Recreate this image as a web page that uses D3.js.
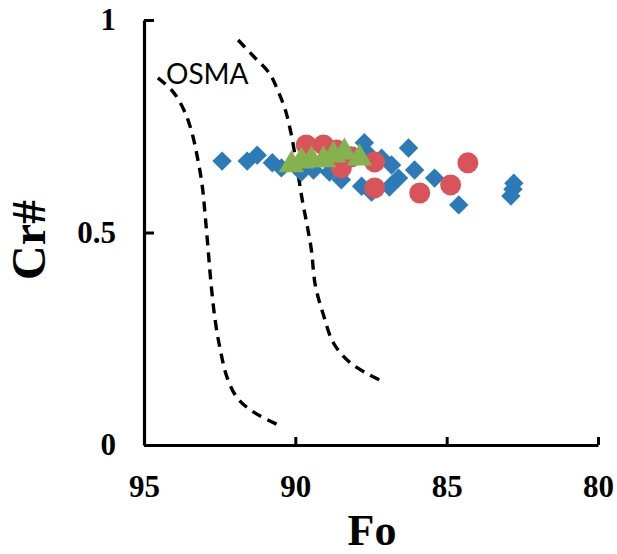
<!DOCTYPE html>
<html>
<head>
<meta charset="utf-8">
<script src="https://cdn.jsdelivr.net/npm/d3@7"></script>
<style>
  body { margin: 0; background: #fff; }
  .tick text { font-family: "Liberation Serif", "Times New Roman", serif; font-weight: bold; }
</style>
</head>
<body>
<svg id="chart" width="617" height="554"></svg>
<script>
// Data (Fo, Cr#)
let blueFo = [92.42, 91.59, 91.26, 90.76, 90.46, 89.80, 89.40, 88.87, 88.48, 88.81, 87.72, 87.55, 87.15, 86.82, 86.59, 87.81, 87.48, 86.89, 86.26, 86.06, 85.40, 84.60, 82.78, 82.81, 82.88]
let blueCr = [0.668, 0.668, 0.682, 0.664, 0.652, 0.642, 0.647, 0.642, 0.624, 0.659, 0.711, 0.682, 0.675, 0.659, 0.628, 0.609, 0.595, 0.607, 0.699, 0.647, 0.628, 0.565, 0.616, 0.602, 0.586]

let redFo = [89.64, 89.07, 88.64, 88.15, 88.48, 87.38, 87.38, 85.89, 84.87, 84.30]
let redCr = [0.706, 0.706, 0.694, 0.678, 0.652, 0.666, 0.605, 0.593, 0.612, 0.664]

let greenFo = [90.13, 89.80, 89.47, 89.07, 88.74, 88.38, 87.88]
let greenCr = [0.659, 0.668, 0.671, 0.671, 0.682, 0.689, 0.675]

// OSMA field boundaries (dashed)
let osmaLeftFo = [94.54, 94.04, 93.68, 93.44, 93.25, 93.08, 92.98, 92.88, 92.78, 92.65, 92.48, 92.25, 91.92, 91.39, 90.56]
let osmaLeftCr = [0.864, 0.831, 0.788, 0.741, 0.682, 0.612, 0.541, 0.459, 0.376, 0.294, 0.224, 0.158, 0.111, 0.078, 0.047]
let osmaRightFo = [91.89, 91.36, 90.86, 90.56, 90.33, 90.13, 89.93, 89.77, 89.60, 89.47, 89.34, 89.07, 88.74, 88.21, 87.55, 87.05]
let osmaRightCr = [0.953, 0.913, 0.875, 0.831, 0.788, 0.729, 0.647, 0.576, 0.513, 0.459, 0.376, 0.306, 0.240, 0.195, 0.165, 0.148]

let xTicks = [95, 90, 85, 80]
let yTicks = [0, 0.5, 1]

const svg = d3.select("#chart")

const x = d3.scaleLinear().domain([95, 80]).range([144, 598])
const y = d3.scaleLinear().domain([0, 1]).range([445, 20])

function zip(a, b) { return a.map((v, i) => [v, b[i]]) }

// dashed curves
const line = d3.line().x(d => x(d[0])).y(d => y(d[1])).curve(d3.curveCatmullRom)
;[zip(osmaLeftFo, osmaLeftCr), zip(osmaRightFo, osmaRightCr)].forEach(c => {
    svg.append("path")
        .attr("d", line(c))
        .attr("fill", "none")
        .attr("stroke", "#000")
        .attr("stroke-width", 3.4)
        .attr("stroke-dasharray", "10,7")
})

svg.append("text")
    .attr("x", 166).attr("y", 84)
    .style("font-family", "Lato, 'Open Sans', sans-serif")
    .style("font-size", "28px")
    .text("OSMA")

// blue diamonds
svg.selectAll(".blue")
    .data(zip(blueFo, blueCr))
    .enter()
    .append("path")
    .attr("class", "blue")
    .attr("d", d3.symbol().type(d3.symbolDiamond2).size(240))
    .attr("transform", d => "translate(" + x(d[0]) + "," + y(d[1]) + ")")
    .style("fill", "#2c7bb8")

// red circles
svg.selectAll(".red")
    .data(zip(redFo, redCr))
    .enter()
    .append("circle")
    .attr("class", "red")
    .attr("cx", d => x(d[0]))
    .attr("cy", d => y(d[1]))
    .attr("r", 10.5)
    .style("fill", "#d8545a")

// green triangles
svg.selectAll(".green")
    .data(zip(greenFo, greenCr))
    .enter()
    .append("path")
    .attr("class", "green")
    .attr("d", d3.symbol().type(d3.symbolTriangle).size(280))
    .attr("transform", d => "translate(" + x(d[0]) + "," + y(d[1]) + ")")
    .style("fill", "#85b24f")

// axes
const xAxis = svg.append("g")
    .attr("transform", "translate(0," + y(0) + ")")
    .call(d3.axisBottom(x).tickValues(xTicks).tickSizeInner(-8).tickSizeOuter(0).tickPadding(30).tickFormat(d3.format("d")))
xAxis.select(".domain").attr("stroke-width", 3.2)
xAxis.selectAll(".tick line").attr("stroke-width", 3)
xAxis.selectAll(".tick text").style("font-size", "31px").attr("fill", "#000")

const yAxis = svg.append("g")
    .attr("transform", "translate(" + x(95) + ",0)")
    .call(d3.axisLeft(y).tickValues(yTicks).tickSizeInner(-10).tickSizeOuter(0).tickPadding(28).tickFormat(d => d === 0.5 ? "0.5" : d3.format("d")(d)))
yAxis.select(".domain").attr("stroke-width", 3.2)
yAxis.selectAll(".tick line").attr("stroke-width", 3)
yAxis.selectAll(".tick text").style("font-size", "31px").attr("fill", "#000")

// axis titles
svg.append("text")
    .attr("x", 372).attr("y", 545)
    .attr("text-anchor", "middle")
    .style("font-family", "'Liberation Serif', serif")
    .style("font-weight", "bold")
    .style("font-size", "44px")
    .text("Fo")

svg.append("text")
    .attr("transform", "translate(45,240) rotate(-90)")
    .attr("text-anchor", "middle")
    .style("font-family", "'Liberation Serif', serif")
    .style("font-weight", "bold")
    .style("font-size", "48px")
    .text("Cr#")
</script>
</body>
</html>
